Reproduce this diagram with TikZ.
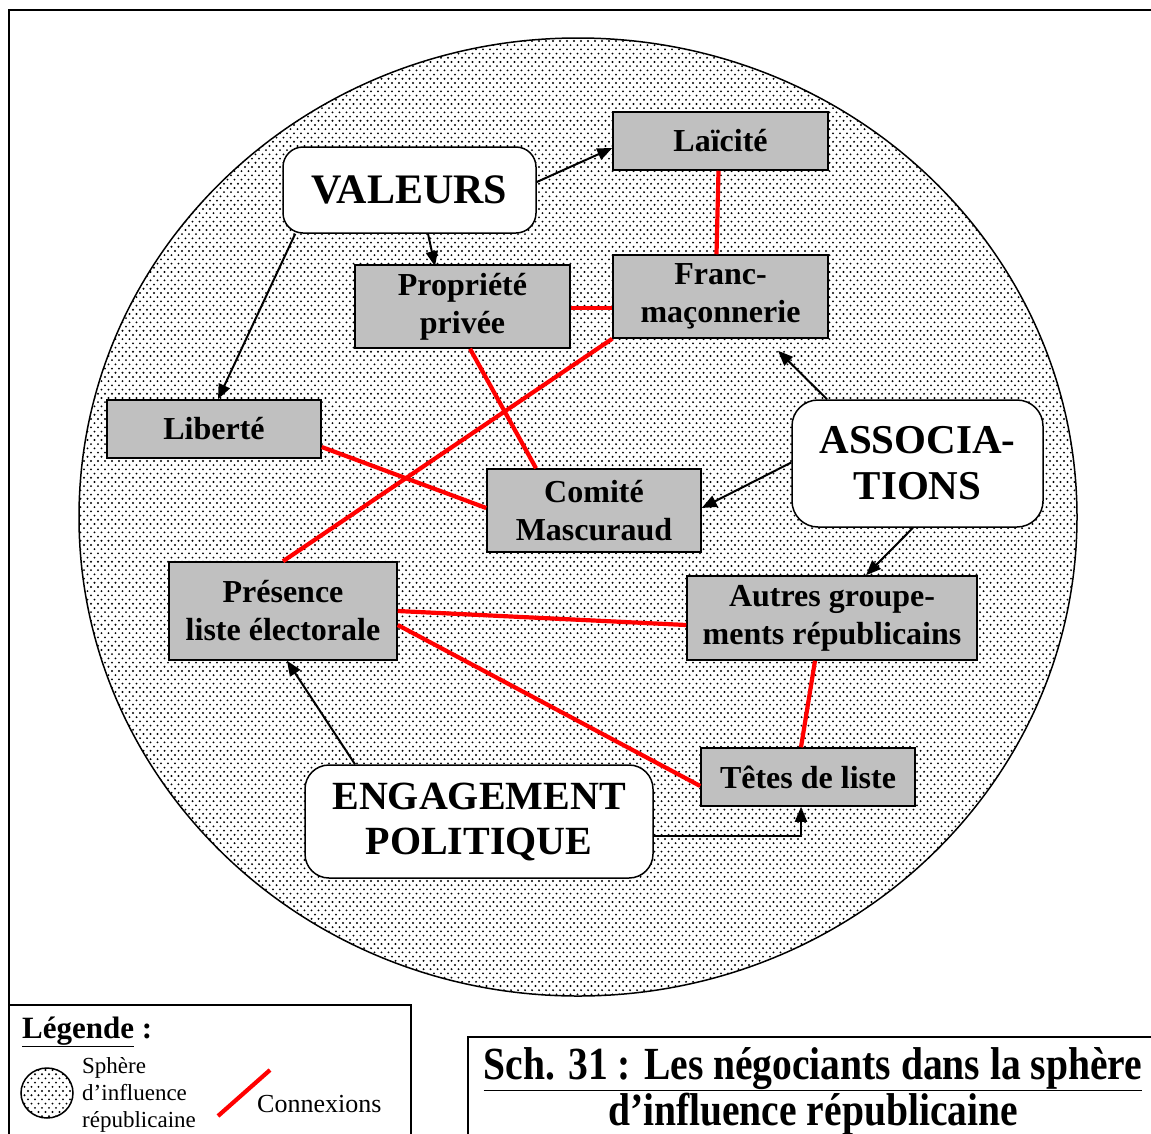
\documentclass[tikz,border=0pt]{standalone}
\usepackage{fontspec}
\setmainfont{Liberation Serif}
\newfontfamily\titlefont[FakeStretch=0.86]{Liberation Serif}
\usetikzlibrary{arrows.meta,patterns,calc}
\definecolor{boxgray}{RGB}{192,192,192}
\pgfdeclarepatternformonly{sdots}{\pgfqpoint{-1.5pt}{-1.5pt}}{\pgfqpoint{8.5pt}{10pt}}{\pgfqpoint{7pt}{8.4pt}}{%
  \pgfpathcircle{\pgfqpoint{0pt}{0pt}}{1.05pt}%
  \pgfpathcircle{\pgfqpoint{3.5pt}{4.2pt}}{1.05pt}%
  \pgfusepath{fill}}
\tikzset{
  gbox/.style={draw=black, line width=1.5pt, fill=boxgray, inner sep=0pt, align=center,
    font=\fontsize{32}{38}\selectfont\bfseries},
  rbox/.style={draw=black, line width=1.5pt, fill=white, rounded corners=22pt, inner sep=0pt, align=center,
    font=\fontsize{41}{46}\selectfont\bfseries},
  arr/.style={draw=black, line width=2pt, -{Triangle[length=15pt,width=12pt]}},
  conn/.style={draw=red, line width=4.2pt},
  frame/.style={draw=black, line width=1.6pt},
}
\begin{document}
\begin{tikzpicture}[x=1pt,y=-1pt]
\useasboundingbox (0,0) rectangle (1151,1133);
\clip (0,0) rectangle (1151,1133);
% outer frame
\draw[frame] (9,1145) -- (9,10) -- (1160,10);
% sphere
\draw[line width=1.5pt, pattern=sdots] (578,517) ellipse [x radius=499, y radius=479];

% nodes
\node[rbox, minimum width=253pt, minimum height=86pt, rounded corners=20pt, font=\fontsize{42}{46}\selectfont\bfseries] (val) at (409.5,190) {VALEURS};
\node[gbox, minimum width=215pt, minimum height=58pt] (lai) at (720.5,141) {Laïcité};
\node[gbox, minimum width=215pt, minimum height=83pt] (fm) at (720.5,296.5) {Franc-\\maçonnerie};
\node[gbox, minimum width=215pt, minimum height=83pt] (prop) at (462.5,306.5) {Propriété\\privée};
\node[gbox, minimum width=214pt, minimum height=58pt] (lib) at (214,429) {Liberté};
\node[rbox, minimum width=251pt, minimum height=127pt, rounded corners=26pt] (asc) at (917.5,463.5) {ASSOCIA-\\TIONS};
\node[gbox, minimum width=214pt, minimum height=83pt] (com) at (594,510.5) {Comité\\Mascuraud};
\node[gbox, minimum width=228pt, minimum height=98pt] (pres) at (283,611) {Présence\\liste électorale};
\node[gbox, minimum width=290pt, minimum height=84pt] (aut) at (832,618) {Autres groupe-\\ments républicains};
\node[gbox, minimum width=214pt, minimum height=58pt] (tet) at (808,777) {Têtes de liste};
\node[rbox, minimum width=348pt, minimum height=113pt, rounded corners=24pt, font=\fontsize{40}{45}\selectfont\bfseries] (eng) at (479,821.5) {ENGAGEMENT\\POLITIQUE};

% red connections
\draw[conn] ([xshift=-2pt]lai.south) -- ([xshift=-4pt]fm.north);
\draw[conn] ([yshift=-1.5pt]prop.east) -- ([yshift=-1.5pt]prop.east -| fm.west);
\draw[conn] ([xshift=7.5pt]prop.south) -- ([xshift=-58pt]com.north);
\draw[conn] (fm.south west) -- (pres.north);
\draw[conn] ([yshift=-18pt]lib.east) -- ([yshift=2.5pt]com.west);
\draw[conn] (pres.east) -- ([yshift=-7pt]aut.west);
\draw[conn] ([yshift=-14pt]pres.east) -- ([yshift=-9pt]tet.west);
\draw[conn] ([xshift=-17pt]aut.south) -- ([xshift=-7pt]tet.north);

% arrows
\draw[arr] ([yshift=8pt]val.east) -- ([yshift=-7pt]lai.west);
\draw[arr] ([xshift=18.5pt]val.south) -- ([xshift=-27.5pt,yshift=-2pt]prop.north);
\draw[arr] ([xshift=13pt]val.south west) -- ([xshift=4pt]lib.north);
\coordinate (fmtip) at ([xshift=57.5pt,yshift=-12pt]fm.south);
\draw[arr] ([xshift=-90.5pt]asc.north) -- (fmtip);
\draw[arr] ([yshift=1pt]asc.west) -- ([yshift=2.5pt]com.east);
\draw[arr] ([xshift=-4.5pt]asc.south) -- ([xshift=34pt]aut.north);
\draw[arr] ([xshift=-124pt]eng.north) -- ([xshift=4pt]pres.south);
\draw[arr] ([yshift=-14.5pt]eng.east) -| ([xshift=-7pt]tet.south);

% legend
\draw[frame] (9,1005) rectangle (411,1150);
\node[anchor=base west, inner sep=0pt, font=\fontsize{31}{34}\selectfont\bfseries] (legt) at (22,1038) {\underline{Légende} :};
\draw[line width=1.5pt, fill=white] (47,1093) ellipse [x radius=26, y radius=25];
\path[pattern=sdots] (47,1093) ellipse [x radius=26, y radius=25];
\node[anchor=base west, inner sep=0pt, align=left, font=\fontsize{23}{27}\selectfont] (legs) at (82,1127) {Sphère\\d’influence\\républicaine};
\coordinate (lr1) at (218,1116);
\coordinate (lr2) at (270,1070);
\draw[conn] (lr1) -- (lr2);
\node[anchor=base west, inner sep=0pt, font=\fontsize{26}{30}\selectfont] (legc) at (257,1112) {Connexions};

% title
\draw[frame] (468,1037) rectangle (1170,1150);
\node[anchor=base, inner sep=0pt, align=center, font=\titlefont\fontsize{46}{46}\selectfont\bfseries] (title) at (813,1125) {\underline{Sch. 31 : Les négociants dans la sphère}\\\underline{d’influence républicaine}};
\end{tikzpicture}
\end{document}
